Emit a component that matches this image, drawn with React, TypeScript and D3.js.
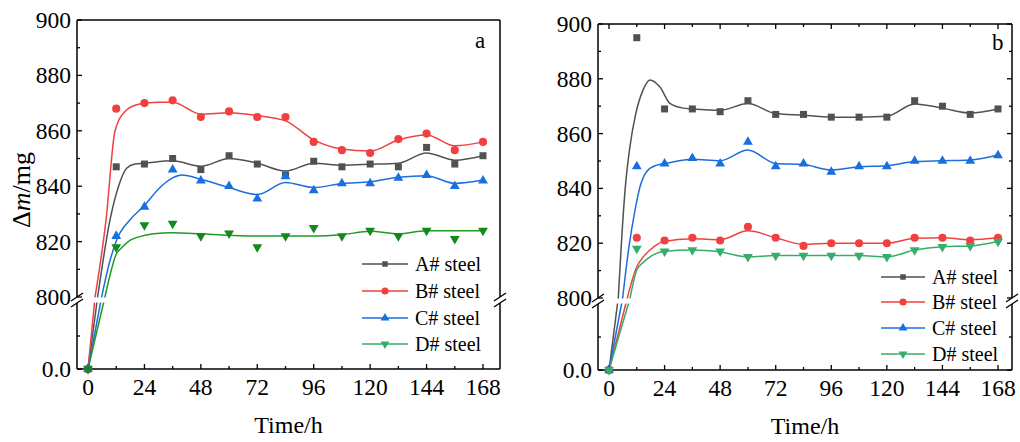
import React from "react";
import * as d3 from "d3";

// measured time points (h)
const TIME_H = [0, 12, 24, 36, 48, 60, 72, 84, 96, 108, 120, 132, 144, 156, 168];
const SERIES_NAMES = ["A# steel", "B# steel", "C# steel", "D# steel"];
const X_TICKS = [0, 24, 48, 72, 96, 120, 144, 168];
const X_MINOR = [12, 36, 60, 84, 108, 132, 156];
const Y_TICKS = [800, 820, 840, 860, 880, 900];
const Y_MINOR = [810, 830, 850, 870, 890];
const Y_LOW_TICKS = [0];
const Y_LOW_MINOR = [400];

// panel a — measured points
const A_a = [0, 847, 848, 850, 846, 851, 848, 844, 849, 847, 848, 847, 854, 848, 851];
const B_a = [0, 868, 870, 871, 865, 867, 865, 865, 856, 853, 852, 857, 859, 853, 856];
const C_a = [0, 822, 832.5, 846, 842, 840, 835.5, 843.5, 838.5, 841, 841, 843, 844, 840, 842];
const D_a = [0, 818, 826, 826.5, 822, 823, 818, 822, 825, 822, 824, 822, 824, 821, 824];

// panel a — fitted curves
const A_a_fitT = [0, 4.1, 9.4, 13, 16.4, 20, 24, 36, 48, 60, 72, 84, 96, 108, 120, 132, 144, 156, 168];
const A_a_fitV = [0, 800, 828, 840, 846.5, 848, 848.3, 849.2, 847.2, 850, 848.3, 845.5, 848.3, 847.6, 847.9, 848.3, 852, 849.4, 851];
const B_a_fitT = [0, 3, 7.7, 11.5, 16.4, 22, 30, 36, 48, 60, 72, 84, 96, 108, 120, 132, 144, 156, 168];
const B_a_fitV = [0, 800, 828, 860, 867.5, 869.7, 870.3, 870.3, 866, 866.5, 865.5, 863.6, 856.7, 853.4, 852.7, 856.7, 858.5, 854.6, 856];
const C_a_fitT = [0, 5.8, 9, 12.2, 18, 24, 30, 36, 40, 48, 60, 72, 84, 96, 108, 120, 132, 144, 156, 168];
const C_a_fitV = [0, 800, 812, 820.6, 828, 833, 839, 843, 844, 842.5, 839.5, 837, 841.3, 839.5, 841, 841.6, 843.2, 843.8, 841, 842.2];
const D_a_fitT = [0, 7.2, 10, 12, 14, 18, 22, 28, 36, 48, 60, 72, 84, 96, 108, 120, 132, 144, 156, 168];
const D_a_fitV = [0, 800, 810, 815.5, 817.5, 820.5, 821.8, 822.8, 823.2, 822.8, 822.3, 822, 822, 822, 822.5, 823.7, 822.8, 823.9, 823.9, 823.9];

// panel b — measured points
const A_b = [0, 895, 869, 869, 868, 872, 867, 867, 866, 866, 866, 872, 870, 867, 869];
const B_b = [0, 822, 821, 822, 821, 826, 822, 819, 820, 820, 820, 822, 822, 821, 822];
const C_b = [0, 848, 849, 851, 849, 857, 848, 849, 846, 848, 848, 850, 850, 850, 852];
const D_b = [0, 818, 817, 817.5, 817, 815, 815.5, 815.5, 815.5, 815.5, 815, 817.5, 818.7, 819, 820.6];

// panel b — fitted curves
const A_b_fitT = [0, 4, 5.5, 7, 9, 11.5, 14.5, 17.7, 22, 26.3, 32, 40, 48, 60, 72, 84, 96, 108, 120, 132, 144, 156, 168];
const A_b_fitV = [0, 800, 822, 840, 855, 867, 875.5, 879.6, 877, 871, 869.3, 868.8, 868.5, 871, 867.3, 866.7, 866, 866, 866.3, 870.8, 869.3, 867.5, 869];
const B_b_fitT = [0, 7.9, 12, 14.8, 17.7, 23.5, 36, 48, 60, 72, 84, 96, 108, 120, 132, 144, 156, 168];
const B_b_fitV = [0, 800, 811.4, 815, 817.5, 820.6, 821.6, 821.3, 824.5, 822, 819.6, 820, 820, 820, 821.8, 822, 821.3, 822];
const C_b_fitT = [0, 5.9, 8.5, 11, 13.4, 16.3, 20.6, 24.9, 36, 48, 60, 72, 84, 96, 108, 120, 132, 144, 156, 168];
const C_b_fitV = [0, 800, 818, 831, 840.6, 846.2, 848.5, 849.2, 850.6, 850.1, 854, 849.1, 848.7, 846.7, 847.9, 848.3, 849.8, 850.1, 850.4, 852.2];
const D_b_fitT = [0, 9.1, 12, 14.8, 17.7, 23.5, 36, 48, 60, 72, 84, 96, 108, 120, 132, 144, 156, 168];
const D_b_fitV = [0, 800, 810.2, 813, 815, 817, 817.5, 816.8, 815, 815.5, 815.5, 815.5, 815.5, 815, 817.5, 818.7, 819, 820.6];

const FONT = "'Liberation Serif', 'Times New Roman', serif";
const COLORS = ["#515151", "#F14040", "#1A6FDF", "#37AD6B"];

type Cfg = {
  letter: string;
  box: [number, number, number, number]; // left right top bottom
  xr: [number, number];
  yHi: [number, number];
  yLo: [number, number];
  mirror: boolean;
  markerColors: string[];
  lineColors: string[];
  points: number[][];
  fits: [number[], number[]][];
  legend: { x: number; ys: number[]; len: number };
  letterPos: [number, number];
};

const panels: Cfg[] = [
  {
    letter: "a",
    box: [77, 500, 20, 369],
    xr: [88, 483],
    yHi: [297, 20],
    yLo: [369, 303],
    mirror: false,
    markerColors: [COLORS[0], COLORS[1], COLORS[2], "#12891a"],
    lineColors: [COLORS[0], COLORS[1], COLORS[2], "#1f9a25"],
    points: [A_a, B_a, C_a, D_a],
    fits: [[A_a_fitT, A_a_fitV], [B_a_fitT, B_a_fitV], [C_a_fitT, C_a_fitV], [D_a_fitT, D_a_fitV]],
    legend: { x: 362, ys: [264, 291, 318, 344], len: 46 },
    letterPos: [475, 48],
  },
  {
    letter: "b",
    box: [598, 1012, 24, 370],
    xr: [609, 998],
    yHi: [298, 24],
    yLo: [370, 304],
    mirror: true,
    markerColors: COLORS,
    lineColors: COLORS,
    points: [A_b, B_b, C_b, D_b],
    fits: [[A_b_fitT, A_b_fitV], [B_b_fitT, B_b_fitV], [C_b_fitT, C_b_fitV], [D_b_fitT, D_b_fitV]],
    legend: { x: 881, ys: [277, 302, 328, 354], len: 44 },
    letterPos: [992, 50],
  },
];

const symbols = [
  d3.symbol(d3.symbolSquare, 49)(),
  d3.symbol(d3.symbolCircle, 52)(),
  d3.symbol(d3.symbolTriangle, 42)(),
  d3.symbol(d3.symbolTriangle, 42)(),
];
const symbolsSmall = [
  d3.symbol(d3.symbolSquare, 30)(),
  d3.symbol(d3.symbolCircle, 40)(),
  d3.symbol(d3.symbolTriangle, 34)(),
  d3.symbol(d3.symbolTriangle, 34)(),
];

function Marker({ i, cx, cy, color, small }: { i: number; cx: number; cy: number; color: string; small?: boolean }) {
  const rot = i === 3 ? " rotate(180)" : "";
  return <path d={(small ? symbolsSmall : symbols)[i] || ""} transform={`translate(${cx},${cy})${rot}`} fill={color} />;
}

function Panel({ cfg }: { cfg: Cfg }) {
  const [L, R, T, B] = cfg.box;
  const x = d3.scaleLinear().domain([0, 168]).range(cfg.xr);
  const yHi = d3.scaleLinear().domain([800, 900]).range(cfg.yHi);
  const yLo = d3.scaleLinear().domain([0, 800]).range(cfg.yLo);
  const y = (v: number) => (v >= 800 ? yHi(v) : yLo(v));
  const curve = d3.line<[number, number]>().x((d) => x(d[0])).y((d) => y(d[1])).curve(d3.curveMonotoneX);
  const straight = d3.line<[number, number]>().x((d) => x(d[0])).y((d) => y(d[1]));
  const gapTop = yHi(800);
  const gapBot = yLo(800);
  const ax = { stroke: "#000", strokeWidth: 1.5, fill: "none" };

  const breakMarks = (bx: number) =>
    [gapTop, gapBot].map((yb, k) => (
      <line key={k} x1={bx - 6} y1={yb + 4} x2={bx + 6} y2={yb - 4} stroke="#000" strokeWidth={1.3} />
    ));

  const yTick = (v: number, len: number, key: string) => {
    const yy = y(v);
    return (
      <g key={key}>
        <line x1={L} x2={L + len} y1={yy} y2={yy} stroke="#000" strokeWidth={1.3} />
        {cfg.mirror && <line x1={R} x2={R - len} y1={yy} y2={yy} stroke="#000" strokeWidth={1.3} />}
      </g>
    );
  };
  const xTick = (t: number, len: number, key: string) => {
    const xx = x(t);
    return (
      <g key={key}>
        <line x1={xx} x2={xx} y1={B} y2={B - len} stroke="#000" strokeWidth={1.3} />
        {cfg.mirror && <line x1={xx} x2={xx} y1={T} y2={T + len} stroke="#000" strokeWidth={1.3} />}
      </g>
    );
  };

  return (
    <g fontFamily={FONT}>
      {/* fitted curves */}
      {cfg.fits.map(([ts, vs], i) => {
        const pts = ts.map((t, j) => [t, vs[j]] as [number, number]);
        return (
          <g key={i} stroke={cfg.lineColors[i]} strokeWidth={1.5} fill="none">
            <path d={straight(pts.slice(0, 2)) || ""} />
            <path d={curve(pts.slice(1)) || ""} />
          </g>
        );
      })}
      {/* axis break band */}
      <rect x={L + 1} y={gapTop + 0.5} width={R - L - 2} height={gapBot - gapTop - 1} fill="#fff" />

      {/* frame */}
      <line x1={L} x2={R} y1={B} y2={B} {...ax} />
      <line x1={L} x2={R} y1={T} y2={T} {...ax} />
      <line x1={L} x2={L} y1={T} y2={gapTop} {...ax} />
      <line x1={L} x2={L} y1={gapBot} y2={B} {...ax} />
      <line x1={R} x2={R} y1={T} y2={gapTop} {...ax} />
      <line x1={R} x2={R} y1={gapBot} y2={B} {...ax} />
      {breakMarks(L)}
      {breakMarks(R)}

      {Y_TICKS.map((v) => yTick(v, 5, "y" + v))}
      {Y_MINOR.map((v) => yTick(v, 3, "ym" + v))}
      {Y_LOW_TICKS.map((v) => yTick(v, 5, "yl" + v))}
      {Y_LOW_MINOR.map((v) => yTick(v, 3, "ylm" + v))}
      {X_TICKS.map((t) => xTick(t, 5, "x" + t))}
      {X_MINOR.map((t) => xTick(t, 3, "xm" + t))}

      {/* tick labels */}
      <g fontSize={23.5} fill="#000">
        {Y_TICKS.map((v) => (
          <text key={v} x={L - 6} y={y(v)} dy="0.34em" textAnchor="end">{v}</text>
        ))}
        {Y_LOW_TICKS.map((v) => (
          <text key={"l" + v} x={L - 6} y={y(v)} dy="0.34em" textAnchor="end">{v.toFixed(1)}</text>
        ))}
        {X_TICKS.map((t) => (
          <text key={t} x={x(t)} y={B + 26} textAnchor="middle">{t}</text>
        ))}
      </g>
      <text x={(L + R) / 2} y={B + 64} textAnchor="middle" fontSize={24}>Time/h</text>
      <text x={cfg.letterPos[0]} y={cfg.letterPos[1]} fontSize={23}>{cfg.letter}</text>

      {/* measured points */}
      {cfg.points.map((vals, i) => (
        <g key={i}>
          {vals.map((v, j) => (
            <Marker key={j} i={i} cx={x(TIME_H[j])} cy={y(v)} color={cfg.markerColors[i]} />
          ))}
        </g>
      ))}

      {/* legend */}
      {SERIES_NAMES.map((name, i) => {
        const ly = cfg.legend.ys[i];
        const lx = cfg.legend.x;
        return (
          <g key={name}>
            <line x1={lx} x2={lx + cfg.legend.len} y1={ly} y2={ly} stroke={COLORS[i]} strokeWidth={1.5} />
            <Marker i={i} cx={lx + cfg.legend.len / 2} cy={ly} color={COLORS[i]} small />
            <text x={lx + cfg.legend.len + 7} y={ly + 7} fontSize={20}>{name}</text>
          </g>
        );
      })}
    </g>
  );
}

export default function App() {
  return (
    <svg width={1020} height={442} style={{ position: "absolute", left: 0, top: 0, background: "#fff" }}>
      <rect width={1020} height={442} fill="#fff" />
      {panels.map((p) => (
        <Panel key={p.letter} cfg={p} />
      ))}
      <text transform="translate(30,190) rotate(-90)" textAnchor="middle" fontFamily={FONT} fontSize={26}>
        Δ<tspan fontStyle="italic">m</tspan>/mg
      </text>
    </svg>
  );
}
